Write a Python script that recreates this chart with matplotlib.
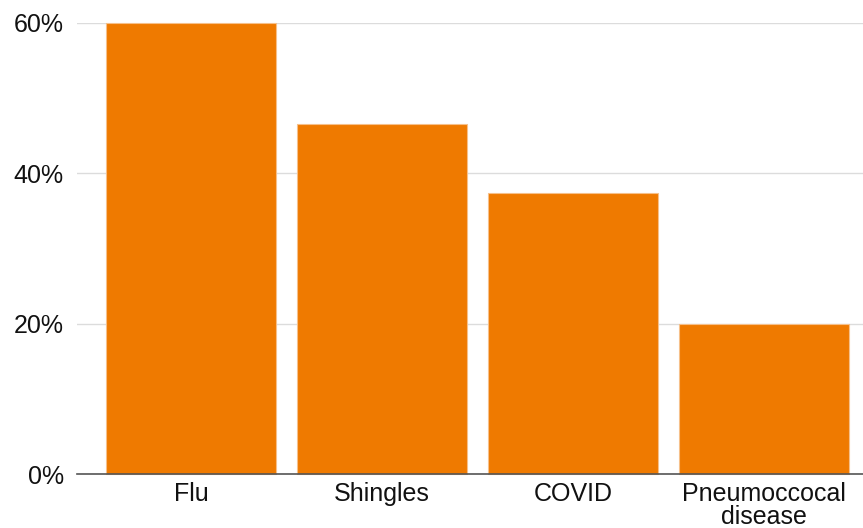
import numpy as np
import matplotlib.pyplot as plt
from matplotlib.ticker import FuncFormatter

categories = ['Flu', 'Shingles', 'COVID', 'Pneumoccocal\ndisease']
values = [60.0, 46.6, 37.4, 19.9]
yticks = [0, 20, 40, 60]

plt.rcParams['font.family'] = ['Liberation Sans', 'DejaVu Sans']

fig = plt.figure(figsize=(8.63, 5.28), dpi=100)
ax = fig.add_axes([77/863, 1-474/528, 1-77/863, 451/528])

x = np.arange(len(categories))
ax.bar(x, values, width=0.89, color='#ef7a00', edgecolor='#f6c08a',
       linewidth=0.8, zorder=3, clip_on=False)

ax.set_xlim(-0.597, 3.518)
ax.set_ylim(0, 60)
ax.set_yticks(yticks)
ax.yaxis.set_major_formatter(FuncFormatter(lambda v, p: f'{v:.0f}%'))
ax.set_xticks(x)
ax.set_xticklabels(categories, linespacing=0.98)

ax.grid(axis='y', color='#dcdcdc', linewidth=1.0, zorder=0)
ax.tick_params(axis='both', length=0, labelsize=18, colors='#111111')
ax.tick_params(axis='y', pad=9.5)
ax.tick_params(axis='x', pad=5.5)

for s in ['top', 'right', 'left']:
    ax.spines[s].set_visible(False)
ax.spines['bottom'].set_color('#555555')
ax.spines['bottom'].set_linewidth(1.2)
ax.spines['bottom'].set_zorder(4)

fig.savefig('out.png', dpi=100)
